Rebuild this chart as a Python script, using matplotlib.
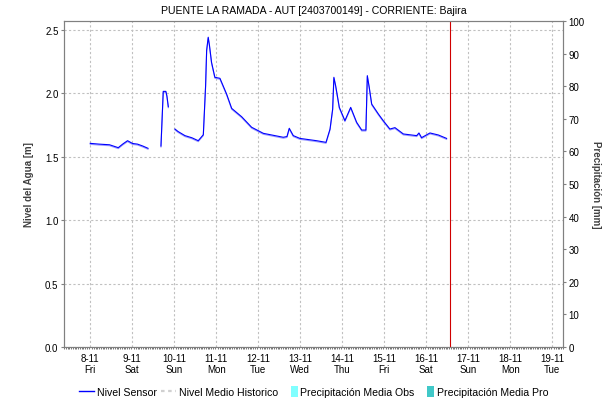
import matplotlib
matplotlib.use('Agg')
import matplotlib.pyplot as plt
import matplotlib.patheffects as pe
from matplotlib.lines import Line2D
from matplotlib.patches import Patch, Rectangle
from matplotlib.legend_handler import HandlerPatch
import numpy as np

plt.rcParams['font.family'] = ['Liberation Sans', 'DejaVu Sans']

# hours since 8-11 00:00, water level in metres (three sensor segments)
seg1_h = [0, 5, 11, 16, 18.5, 21.3, 24.2, 27, 30, 33]
seg1_v = [1.606, 1.60, 1.595, 1.572, 1.60, 1.627, 1.605, 1.600, 1.585, 1.567]

seg2_h = [40.4, 41.7, 43.2, 43.8, 44.6]
seg2_v = [1.585, 2.016, 2.016, 1.98, 1.895]

seg3_h = [48.4, 50.1, 54.1, 58.1, 61.7, 64.6, 65.9, 66.5, 67.4, 68.1, 69.3, 71.2,
          74.1, 77.9, 80.8, 86.5, 92.2, 98.9, 110.3, 112.4, 113.7, 116.0, 119.8,
          129.3, 134.7, 137.0, 138.5, 139.2, 140.2, 142.3, 145.5, 148.8, 152.2,
          155.1, 157.5, 158.3, 159.4, 160.8, 164.6, 167.4, 171.2, 174.1, 178.9,
          186.5, 187.8, 189.3, 194.1, 198.9, 203.6]
seg3_v = [1.719, 1.70, 1.667, 1.650, 1.627, 1.674, 2.06, 2.34, 2.443, 2.38, 2.245, 2.127,
          2.119, 1.995, 1.882, 1.816, 1.733, 1.685, 1.654, 1.66, 1.725, 1.667, 1.645,
          1.627, 1.614, 1.719, 1.877, 2.127, 2.061, 1.89, 1.785, 1.89, 1.772,
          1.711, 1.711, 2.14, 2.048, 1.916, 1.838, 1.785, 1.719, 1.73, 1.68,
          1.667, 1.688, 1.651, 1.688, 1.672, 1.645]

day_labels = ['8-11\nFri', '9-11\nSat', '10-11\nSun', '11-11\nMon', '12-11\nTue', '13-11\nWed',
              '14-11\nThu', '15-11\nFri', '16-11\nSat', '17-11\nSun', '18-11\nMon', '19-11\nTue']
now_hour = 205.4


class NarrowSquare(HandlerPatch):
    # small square swatch sitting at the right end of the handle box
    def create_artists(self, legend, orig_handle, xdescent, ydescent, width, height, fontsize, trans):
        h = height * 1.25
        w = h * 0.6
        r = Rectangle((width - xdescent - w, -ydescent - (h - height) / 2), w, h,
                      facecolor=orig_handle.get_facecolor(), edgecolor='none', transform=trans)
        return [r]


fig = plt.figure(figsize=(6.08, 4.02), dpi=100)
ax = fig.add_axes([64/608, 1 - 348/402, 499/608, 326/402])
ax2 = ax.twinx()

shadow = [pe.SimpleLineShadow(offset=(0, -0.7), shadow_color='#9a9aff', alpha=1), pe.Normal()]
for hh, vv in [(seg1_h, seg1_v), (seg2_h, seg2_v), (seg3_h, seg3_v)]:
    ax.plot(hh, vv, color='#0000ff', lw=0.8, path_effects=shadow, zorder=3)

ax.axvline(now_hour, color='#d00000', lw=0.8, zorder=4)

ax.set_xlim(-15.0, 270.1)
ax.set_ylim(0, 2.571)
ax2.set_ylim(0, 100)

ax.set_xticks([24 * i for i in range(len(day_labels))])
ax.set_xticklabels(day_labels)
ax.set_xticks(np.arange(-15, 271, 1), minor=True)
ax.set_yticks([0, 0.5, 1.0, 1.5, 2.0, 2.5])
ax.set_yticklabels(['0.0', '0.5', '1.0', '1.5', '2.0', '2.5'])
ax2.set_yticks(range(0, 101, 10))

ax.grid(True, which='major', color='#c0c0c0', ls=(0, (2, 2)), lw=0.8, zorder=1)
ax.set_axisbelow(True)

for a in (ax, ax2):
    for s in a.spines.values():
        s.set_color('#808080')
ax.tick_params(axis='x', which='major', length=0, labelsize=7, pad=4)
ax.tick_params(axis='x', which='minor', length=1.5, color='#606060', width=0.6)
ax.tick_params(axis='y', length=2, color='#808080', labelsize=7, pad=2)
ax2.tick_params(axis='y', length=2, color='#808080', labelsize=7, pad=2)

ax.set_ylabel('Nivel del Agua [m]', fontsize=7, fontweight='bold', color='#404040', labelpad=8)
ax2.set_ylabel('Precipitación [mm]', fontsize=7, fontweight='bold', color='#404040',
               rotation=-90, labelpad=12)
ax.set_title('PUENTE LA RAMADA - AUT [2403700149] - CORRIENTE: Bajira', fontsize=7.6, pad=6)

handles = [Line2D([], [], color='#0000ff', lw=1),
           Line2D([], [], color='#d0d0d0', lw=1.6, ls=(0, (1.6, 1.6))),
           Patch(facecolor='#80ffff', edgecolor='none'),
           Patch(facecolor='#40c8c8', edgecolor='none')]
labels = ['Nivel Sensor', 'Nivel Medio Historico', 'Precipitación Media Obs', 'Precipitación Media Pro']
fig.legend(handles, labels, loc='center', bbox_to_anchor=(313.5/608, 1 - 392.7/402), ncol=4,
           frameon=False, fontsize=7.6, handlelength=1.45, handletextpad=0.25, columnspacing=0.4,
           handleheight=0.9, handler_map={Patch: NarrowSquare()})

fig.savefig('out.png', dpi=100)
